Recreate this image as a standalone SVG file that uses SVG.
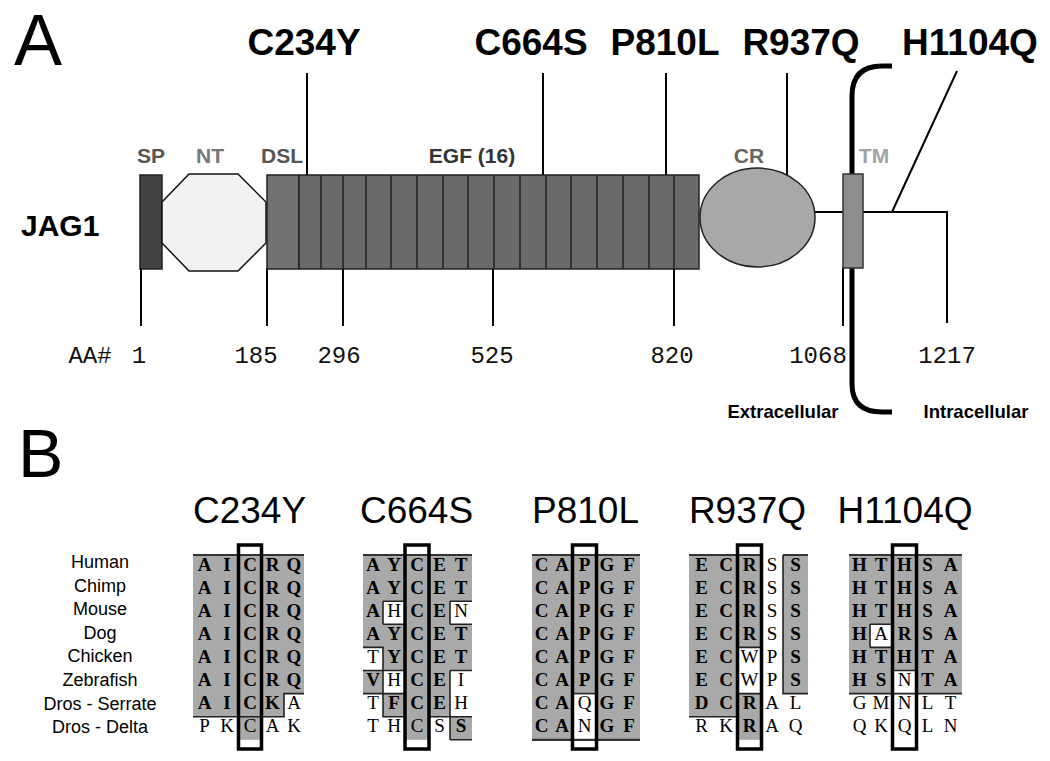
<svg xmlns="http://www.w3.org/2000/svg" width="1050" height="761" viewBox="0 0 1050 761">
<style>
.big{font-family:"Liberation Sans",Arial,sans-serif;fill:#000}
.mutA{font-family:"Liberation Sans",Arial,sans-serif;font-size:37px;font-weight:bold;text-anchor:middle}
.mutB{font-family:"Liberation Sans",Arial,sans-serif;font-size:37px;text-anchor:middle}
.dom{font-family:"Liberation Sans",Arial,sans-serif;font-size:21px;font-weight:bold;text-anchor:middle}
.num{font-family:"Liberation Mono","Courier New",monospace;font-size:24px;text-anchor:middle;fill:#111}
.mem{font-family:"Liberation Sans",Arial,sans-serif;font-size:18.5px;font-weight:bold;text-anchor:middle}
.sp{font-family:"Liberation Sans",Arial,sans-serif;font-size:18px;text-anchor:middle}
.g{font-family:"Liberation Serif","Times New Roman",serif;font-size:19px;font-weight:bold;text-anchor:middle}
.w{font-family:"Liberation Serif","Times New Roman",serif;font-size:19px;text-anchor:middle}
.ln{stroke:#000;stroke-width:2;fill:none}
.cell{fill:#a9a9a9}
.bd{stroke:#222;stroke-width:1.6;fill:none}
.top{stroke:#333;stroke-width:2.2;fill:none}
.box{stroke:#000;stroke-width:3.5;fill:none}
</style>

<text class="big" x="14" y="65" font-size="72">A</text>
<text class="big" x="18" y="477" font-size="68">B</text>
<text class="big" x="21" y="236" font-size="30" font-weight="bold">JAG1</text>

<!-- connectors of panel A -->
<g id="connectors">
  <line class="ln" x1="815" y1="212" x2="947" y2="212"/>
  <line class="ln" x1="947" y1="211" x2="947" y2="323"/>
  <path d="M892 66 L882 66 Q852 66 852 96 L852 384 Q852 412 882 412 L892 412" stroke="#000" stroke-width="5" fill="none"/>
  <line class="ln" x1="307" y1="73" x2="307" y2="175"/>
  <line class="ln" x1="543" y1="73" x2="543" y2="175"/>
  <line class="ln" x1="666" y1="73" x2="666" y2="175"/>
  <line class="ln" x1="787" y1="73" x2="787" y2="176"/>
  <line class="ln" x1="957" y1="71" x2="892" y2="212"/>
  <line class="ln" x1="141" y1="268" x2="141" y2="326"/>
  <line class="ln" x1="267" y1="268" x2="267" y2="326"/>
  <line class="ln" x1="343" y1="268" x2="343" y2="326"/>
  <line class="ln" x1="493" y1="268" x2="493" y2="326"/>
  <line class="ln" x1="674" y1="268" x2="674" y2="326"/>
  <line class="ln" x1="843" y1="267" x2="843" y2="326"/>
</g>

<g id="SP">
  <rect x="140" y="175" width="22" height="94" fill="#434343" stroke="#222" stroke-width="1.5"/>
  <text class="dom" x="151" y="163" fill="#555">SP</text>
</g>
<g id="NT">
  <polygon points="162,202 189,174 238,174 266,202 266,243 238,271 189,271 162,243" fill="#f2f2f2" stroke="#111" stroke-width="1.5"/>
  <text class="dom" x="210" y="163" fill="#777">NT</text>
</g>
<g id="DSL">
  <rect x="267" y="175" width="32" height="94" fill="#727272" stroke="#222" stroke-width="1.5"/>
  <text class="dom" x="282" y="163" fill="#555">DSL</text>
</g>
<g id="EGF">
  <rect x="299" y="175" width="400" height="94" fill="#6a6a6a" stroke="#222" stroke-width="1.5"/>
  <path d="M321 175V269M343 175V269M366 175V269M391 175V269M417 175V269M443 175V269M468 175V269M494 175V269M520 175V269M546 175V269M571 175V269M597 175V269M623 175V269M649 175V269M674 175V269" stroke="#222" stroke-width="1.5"/>
  <text class="dom" x="472" y="163" fill="#333">EGF (16)</text>
</g>
<g id="CR">
  <ellipse cx="757.5" cy="217.5" rx="57.5" ry="49.5" fill="#a8a8a8" stroke="#222" stroke-width="1.5"/>
  <text class="dom" x="749" y="163" fill="#666">CR</text>
</g>
<g id="TM">
  <rect x="843" y="174" width="20" height="94" fill="#8e8e8e" stroke="#333" stroke-width="1.5"/>
  <text class="dom" x="874" y="163" fill="#a3a3a3">TM</text>
</g>

<g id="mutation-labels-A">
  <text class="mutA" x="304" y="55">C234Y</text>
  <text class="mutA" x="531" y="55">C664S</text>
  <text class="mutA" x="665" y="55">P810L</text>
  <text class="mutA" x="801" y="55">R937Q</text>
  <text class="mutA" x="970" y="55">H1104Q</text>
</g>

<g id="positions">
  <text class="num" x="90" y="363">AA#</text>
  <text class="num" x="139" y="363">1</text>
  <text class="num" x="256" y="363">185</text>
  <text class="num" x="339" y="363">296</text>
  <text class="num" x="492" y="363">525</text>
  <text class="num" x="672" y="363">820</text>
  <text class="num" x="818" y="363">1068</text>
  <text class="num" x="947" y="363">1217</text>
</g>
<g id="membrane-labels">
  <text class="mem" x="783" y="418">Extracellular</text>
  <text class="mem" x="976" y="418">Intracellular</text>
</g>

<!-- Panel B -->
<g id="species">
  <text class="sp" x="100" y="568">Human</text>
  <text class="sp" x="100" y="591.6">Chimp</text>
  <text class="sp" x="100" y="615.2">Mouse</text>
  <text class="sp" x="100" y="638.8">Dog</text>
  <text class="sp" x="100" y="662.4">Chicken</text>
  <text class="sp" x="100" y="686">Zebrafish</text>
  <text class="sp" x="100" y="709.6">Dros - Serrate</text>
  <text class="sp" x="100" y="733.2">Dros - Delta</text>
</g>

<g id="headers-B">
  <text class="mutB" x="249.5" y="523">C234Y</text>
  <text class="mutB" x="416.5" y="523">C664S</text>
  <text class="mutB" x="585.5" y="523">P810L</text>
  <text class="mutB" x="747.5" y="523">R937Q</text>
  <text class="mutB" x="905" y="523">H1104Q</text>
</g>

<!-- Table 1: C234Y  cols 193,216,238.5,261.5,284,304 -->
<g id="table-C234Y">
  <rect class="cell" x="193" y="555" width="45.5" height="161.7"/>
  <rect class="cell" x="238.5" y="555" width="23" height="184.8"/>
  <rect class="cell" x="261.5" y="555" width="22.5" height="161.7"/>
  <rect class="cell" x="284" y="555" width="20" height="138.6"/>
  <path class="top" d="M193 555H304"/>
  <path class="bd" d="M304 693.6H284V716.7H193"/>
  <rect class="box" x="238.5" y="545" width="23" height="204"/>
  <g>
    <text class="g" x="204.5" y="570.5">A</text><text class="g" x="227" y="570.5">I</text><text class="g" x="250" y="570.5">C</text><text class="g" x="272.5" y="570.5">R</text><text class="g" x="294" y="570.5">Q</text>
    <text class="g" x="204.5" y="593.6">A</text><text class="g" x="227" y="593.6">I</text><text class="g" x="250" y="593.6">C</text><text class="g" x="272.5" y="593.6">R</text><text class="g" x="294" y="593.6">Q</text>
    <text class="g" x="204.5" y="616.7">A</text><text class="g" x="227" y="616.7">I</text><text class="g" x="250" y="616.7">C</text><text class="g" x="272.5" y="616.7">R</text><text class="g" x="294" y="616.7">Q</text>
    <text class="g" x="204.5" y="639.8">A</text><text class="g" x="227" y="639.8">I</text><text class="g" x="250" y="639.8">C</text><text class="g" x="272.5" y="639.8">R</text><text class="g" x="294" y="639.8">Q</text>
    <text class="g" x="204.5" y="662.9">A</text><text class="g" x="227" y="662.9">I</text><text class="g" x="250" y="662.9">C</text><text class="g" x="272.5" y="662.9">R</text><text class="g" x="294" y="662.9">Q</text>
    <text class="g" x="204.5" y="686">A</text><text class="g" x="227" y="686">I</text><text class="g" x="250" y="686">C</text><text class="g" x="272.5" y="686">R</text><text class="g" x="294" y="686">Q</text>
    <text class="g" x="204.5" y="709.1">A</text><text class="g" x="227" y="709.1">I</text><text class="g" x="250" y="709.1">C</text><text class="g" x="272.5" y="709.1">K</text><text class="w" x="294" y="709.1">A</text>
    <text class="w" x="204.5" y="732.2">P</text><text class="w" x="227" y="732.2">K</text><text class="w" x="250" y="732.2">C</text><text class="w" x="272.5" y="732.2">A</text><text class="w" x="294" y="732.2">K</text>
  </g>
</g>

<!-- Table 2: C664S  cols 363,383,405,429,450,472 -->
<g id="table-C664S">
  <rect class="cell" x="363" y="555" width="20" height="92.4"/>
  <rect class="cell" x="363" y="670.5" width="20" height="23.1"/>
  <rect class="cell" x="383" y="555" width="22" height="46.2"/>
  <rect class="cell" x="383" y="624.3" width="22" height="46.2"/>
  <rect class="cell" x="383" y="693.6" width="22" height="23.1"/>
  <rect class="cell" x="405" y="555" width="24" height="184.8"/>
  <rect class="cell" x="429" y="555" width="21" height="161.7"/>
  <rect class="cell" x="450" y="555" width="22" height="46.2"/>
  <rect class="cell" x="450" y="624.3" width="22" height="46.2"/>
  <rect class="cell" x="450" y="716.7" width="22" height="23.1"/>
  <path class="top" d="M363 555H472"/>
  <path class="bd" d="M383 601.2H405M383 624.3H405M383 601.2V624.3M450 601.2H472M450 624.3H472M450 601.2V624.3M363 647.4H383V670.5H363M383 670.5H405M450 670.5H472M363 693.6H383M383 693.6H405M383 647.4V716.7H405M450 670.5V739.8M429 716.7H472M450 739.8H472"/>
  <rect class="box" x="405" y="545" width="24" height="204"/>
  <g>
    <text class="g" x="373" y="570.5">A</text><text class="g" x="394" y="570.5">Y</text><text class="g" x="417" y="570.5">C</text><text class="g" x="439.5" y="570.5">E</text><text class="g" x="461" y="570.5">T</text>
    <text class="g" x="373" y="593.6">A</text><text class="g" x="394" y="593.6">Y</text><text class="g" x="417" y="593.6">C</text><text class="g" x="439.5" y="593.6">E</text><text class="g" x="461" y="593.6">T</text>
    <text class="g" x="373" y="616.7">A</text><text class="w" x="394" y="616.7">H</text><text class="g" x="417" y="616.7">C</text><text class="g" x="439.5" y="616.7">E</text><text class="w" x="461" y="616.7">N</text>
    <text class="g" x="373" y="639.8">A</text><text class="g" x="394" y="639.8">Y</text><text class="g" x="417" y="639.8">C</text><text class="g" x="439.5" y="639.8">E</text><text class="g" x="461" y="639.8">T</text>
    <text class="w" x="373" y="662.9">T</text><text class="g" x="394" y="662.9">Y</text><text class="g" x="417" y="662.9">C</text><text class="g" x="439.5" y="662.9">E</text><text class="g" x="461" y="662.9">T</text>
    <text class="g" x="373" y="686">V</text><text class="w" x="394" y="686">H</text><text class="g" x="417" y="686">C</text><text class="g" x="439.5" y="686">E</text><text class="w" x="461" y="686">I</text>
    <text class="w" x="373" y="709.1">T</text><text class="g" x="394" y="709.1">F</text><text class="g" x="417" y="709.1">C</text><text class="g" x="439.5" y="709.1">E</text><text class="w" x="461" y="709.1">H</text>
    <text class="w" x="373" y="732.2">T</text><text class="w" x="394" y="732.2">H</text><text class="w" x="417" y="732.2">C</text><text class="w" x="439.5" y="732.2">S</text><text class="g" x="461" y="732.2">S</text>
  </g>
</g>

<!-- Table 3: P810L  cols 532,551,572.5,596.5,618,640 -->
<g id="table-P810L">
  <rect class="cell" x="532" y="555" width="108" height="184.8"/>
  <rect x="572.5" y="693.6" width="24" height="46.2" fill="#fff"/>
  <path class="top" d="M532 555H640M532 739.8H640"/>
  <path class="bd" d="M572.5 693.6H596.5"/>
  <rect class="box" x="572.5" y="545" width="24" height="204"/>
  <g>
    <text class="g" x="541.5" y="570.5">C</text><text class="g" x="562" y="570.5">A</text><text class="g" x="584.5" y="570.5">P</text><text class="g" x="607" y="570.5">G</text><text class="g" x="629" y="570.5">F</text>
    <text class="g" x="541.5" y="593.6">C</text><text class="g" x="562" y="593.6">A</text><text class="g" x="584.5" y="593.6">P</text><text class="g" x="607" y="593.6">G</text><text class="g" x="629" y="593.6">F</text>
    <text class="g" x="541.5" y="616.7">C</text><text class="g" x="562" y="616.7">A</text><text class="g" x="584.5" y="616.7">P</text><text class="g" x="607" y="616.7">G</text><text class="g" x="629" y="616.7">F</text>
    <text class="g" x="541.5" y="639.8">C</text><text class="g" x="562" y="639.8">A</text><text class="g" x="584.5" y="639.8">P</text><text class="g" x="607" y="639.8">G</text><text class="g" x="629" y="639.8">F</text>
    <text class="g" x="541.5" y="662.9">C</text><text class="g" x="562" y="662.9">A</text><text class="g" x="584.5" y="662.9">P</text><text class="g" x="607" y="662.9">G</text><text class="g" x="629" y="662.9">F</text>
    <text class="g" x="541.5" y="686">C</text><text class="g" x="562" y="686">A</text><text class="g" x="584.5" y="686">P</text><text class="g" x="607" y="686">G</text><text class="g" x="629" y="686">F</text>
    <text class="g" x="541.5" y="709.1">C</text><text class="g" x="562" y="709.1">A</text><text class="w" x="584.5" y="709.1">Q</text><text class="g" x="607" y="709.1">G</text><text class="g" x="629" y="709.1">F</text>
    <text class="g" x="541.5" y="732.2">C</text><text class="g" x="562" y="732.2">A</text><text class="w" x="584.5" y="732.2">N</text><text class="g" x="607" y="732.2">G</text><text class="g" x="629" y="732.2">F</text>
  </g>
</g>

<!-- Table 4: R937Q  cols 689,714,737.5,761.5,783,808 -->
<g id="table-R937Q">
  <rect class="cell" x="689" y="555" width="48.5" height="161.7"/>
  <rect class="cell" x="737.5" y="555" width="24" height="92.4"/>
  <rect class="cell" x="737.5" y="693.6" width="24" height="46.2"/>
  <rect class="cell" x="783" y="555" width="25" height="138.6"/>
  <path class="top" d="M689 555H761.5M783 555H808"/>
  <path class="bd" d="M737.5 647.4H761.5M737.5 693.6H761.5M783 555V693.6H808M689 716.7H737.5"/>
  <rect class="box" x="737.5" y="545" width="24" height="204"/>
  <g>
    <text class="g" x="701.5" y="570.5">E</text><text class="g" x="726" y="570.5">C</text><text class="g" x="749.5" y="570.5">R</text><text class="w" x="772" y="570.5">S</text><text class="g" x="795.5" y="570.5">S</text>
    <text class="g" x="701.5" y="593.6">E</text><text class="g" x="726" y="593.6">C</text><text class="g" x="749.5" y="593.6">R</text><text class="w" x="772" y="593.6">S</text><text class="g" x="795.5" y="593.6">S</text>
    <text class="g" x="701.5" y="616.7">E</text><text class="g" x="726" y="616.7">C</text><text class="g" x="749.5" y="616.7">R</text><text class="w" x="772" y="616.7">S</text><text class="g" x="795.5" y="616.7">S</text>
    <text class="g" x="701.5" y="639.8">E</text><text class="g" x="726" y="639.8">C</text><text class="g" x="749.5" y="639.8">R</text><text class="w" x="772" y="639.8">S</text><text class="g" x="795.5" y="639.8">S</text>
    <text class="g" x="701.5" y="662.9">E</text><text class="g" x="726" y="662.9">C</text><text class="w" x="749.5" y="662.9">W</text><text class="w" x="772" y="662.9">P</text><text class="g" x="795.5" y="662.9">S</text>
    <text class="g" x="701.5" y="686">E</text><text class="g" x="726" y="686">C</text><text class="w" x="749.5" y="686">W</text><text class="w" x="772" y="686">P</text><text class="g" x="795.5" y="686">S</text>
    <text class="g" x="701.5" y="709.1">D</text><text class="g" x="726" y="709.1">C</text><text class="g" x="749.5" y="709.1">R</text><text class="w" x="772" y="709.1">A</text><text class="w" x="795.5" y="709.1">L</text>
    <text class="w" x="701.5" y="732.2">R</text><text class="w" x="726" y="732.2">K</text><text class="g" x="749.5" y="732.2">R</text><text class="w" x="772" y="732.2">A</text><text class="w" x="795.5" y="732.2">Q</text>
  </g>
</g>

<!-- Table 5: H1104Q  cols 849,870,892.5,916.5,939,962 -->
<g id="table-H1104Q">
  <rect class="cell" x="849" y="555" width="113" height="138.6"/>
  <rect x="870" y="624.3" width="22.5" height="23.1" fill="#fff"/>
  <rect x="892.5" y="670.5" width="24" height="23.1" fill="#fff"/>
  <path class="top" d="M849 555H962"/>
  <path class="bd" d="M870 624.3H892.5M870 647.4H892.5M870 624.3V647.4M892.5 670.5H916.5M849 693.6H962"/>
  <rect class="box" x="892.5" y="545" width="24" height="204"/>
  <g>
    <text class="g" x="859.5" y="570.5">H</text><text class="g" x="881" y="570.5">T</text><text class="g" x="904.5" y="570.5">H</text><text class="g" x="927.5" y="570.5">S</text><text class="g" x="950.5" y="570.5">A</text>
    <text class="g" x="859.5" y="593.6">H</text><text class="g" x="881" y="593.6">T</text><text class="g" x="904.5" y="593.6">H</text><text class="g" x="927.5" y="593.6">S</text><text class="g" x="950.5" y="593.6">A</text>
    <text class="g" x="859.5" y="616.7">H</text><text class="g" x="881" y="616.7">T</text><text class="g" x="904.5" y="616.7">H</text><text class="g" x="927.5" y="616.7">S</text><text class="g" x="950.5" y="616.7">A</text>
    <text class="g" x="859.5" y="639.8">H</text><text class="w" x="881" y="639.8">A</text><text class="g" x="904.5" y="639.8">R</text><text class="g" x="927.5" y="639.8">S</text><text class="g" x="950.5" y="639.8">A</text>
    <text class="g" x="859.5" y="662.9">H</text><text class="g" x="881" y="662.9">T</text><text class="g" x="904.5" y="662.9">H</text><text class="g" x="927.5" y="662.9">T</text><text class="g" x="950.5" y="662.9">A</text>
    <text class="g" x="859.5" y="686">H</text><text class="g" x="881" y="686">S</text><text class="w" x="904.5" y="686">N</text><text class="g" x="927.5" y="686">T</text><text class="g" x="950.5" y="686">A</text>
    <text class="w" x="859.5" y="709.1">G</text><text class="w" x="881" y="709.1">M</text><text class="w" x="904.5" y="709.1">N</text><text class="w" x="927.5" y="709.1">L</text><text class="w" x="950.5" y="709.1">T</text>
    <text class="w" x="859.5" y="732.2">Q</text><text class="w" x="881" y="732.2">K</text><text class="w" x="904.5" y="732.2">Q</text><text class="w" x="927.5" y="732.2">L</text><text class="w" x="950.5" y="732.2">N</text>
  </g>
</g>
</svg>
